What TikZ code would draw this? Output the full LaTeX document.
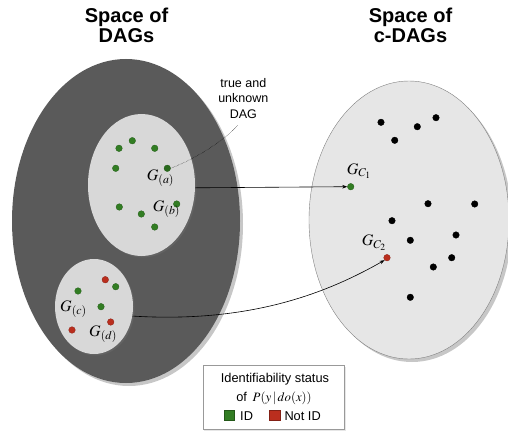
\documentclass[tikz,border=0pt]{standalone}
\usepackage{mathptmx}
\usepackage[no-math]{fontspec}
\setmainfont{Liberation Sans}
\usetikzlibrary{shapes.geometric,shadows,arrows.meta}
\definecolor{darkfill}{RGB}{90,90,90}
\definecolor{innerfill}{RGB}{216,216,216}
\definecolor{rightfill}{RGB}{230,230,230}
\definecolor{idgreen}{RGB}{50,125,35}
\definecolor{notred}{RGB}{186,46,30}
\tikzset{
  dotbase/.style={circle, inner sep=0pt, minimum size=6.6pt, line width=0.3pt},
  gdot/.style={dotbase, fill=idgreen, draw=idgreen!75!black},
  rdot/.style={dotbase, fill=notred, draw=notred!75!black},
  bdot/.style={dotbase, fill=black, draw=black},
  title/.style={font=\bfseries\fontsize{20}{20}\selectfont, anchor=base, inner sep=0pt},
  glabel/.style={font=\fontsize{16}{16}\selectfont, anchor=base west, inner sep=0pt},
  conn/.style={line width=0.6pt, -{Stealth[length=5pt,width=3.6pt]}},
  softshadow/.style={drop shadow={shadow xshift=3pt, shadow yshift=-3pt, opacity=0.22, fill=black}},
}
\begin{document}
\begin{tikzpicture}[x=1pt,y=-1pt]
\useasboundingbox (0,0) rectangle (508,433);
% titles
\node[title] (t1a) at (126.5,22.7) {Space of};
\node[title] (t1b) at (126.5,42.7) {DAGs};
\node[title] (t2a) at (410.5,22.7) {Space of};
\node[title] (t2b) at (410.5,42.7) {c-DAGs};
% big ellipses
\node[ellipse, fill=darkfill, minimum width=228pt, minimum height=324pt, inner sep=0pt, softshadow] (big) at (126,221) {};
\node[ellipse, fill=rightfill, draw=gray, line width=0.4pt, minimum width=200pt, minimum height=278pt, inner sep=0pt, softshadow] (right) at (409,220) {};
\node[ellipse, fill=innerfill, minimum width=107pt, minimum height=142pt, inner sep=0pt, drop shadow={shadow xshift=1.5pt, shadow yshift=-1.5pt, opacity=0.25}] (ellA) at (141.5,185) {};
\node[ellipse, fill=innerfill, minimum width=78pt, minimum height=95pt, inner sep=0pt, drop shadow={shadow xshift=1.5pt, shadow yshift=-1.5pt, opacity=0.25}] (ellC) at (94,306.5) {};
% dots in ellipse A
\node[gdot] (a1) at (119,148.3) {};
\node[gdot] (a2) at (132.3,140.7) {};
\node[gdot] (a3) at (154.7,148.3) {};
\node[gdot] (a4) at (115.7,168.3) {};
\node[gdot, fill=idgreen!85!black] (ga) at (167.3,168.3) {};
\node[gdot] (a6) at (119.3,207) {};
\node[gdot] (a7) at (141.3,214) {};
\node[gdot] (a8) at (154.7,227) {};
\node[gdot] (gb) at (176.7,204) {};
\node[glabel] (lga) at (146.7,180) {$G_{(a)}$};
\node[glabel] (lgb) at (152.7,211) {$G_{(b)}$};
% dots in ellipse C
\node[rdot] (c1) at (105.3,279.7) {};
\node[gdot] (c2) at (115.7,286.7) {};
\node[gdot] (c3) at (78,291) {};
\node[gdot] (c4) at (101,306.7) {};
\node[rdot] (c5) at (110.7,322) {};
\node[rdot] (c6) at (72,330) {};
\node[glabel] (lgc) at (60,311) {$G_{(c)}$};
\node[glabel] (lgd) at (89,336) {$G_{(d)}$};
% right dots
\node[bdot] (b1) at (381,122.3) {};
\node[bdot] (b2) at (394.7,140.3) {};
\node[bdot] (b3) at (417.3,126.7) {};
\node[bdot] (b4) at (436,117.7) {};
\node[bdot] (b5) at (428,203.7) {};
\node[bdot] (b6) at (474.7,204) {};
\node[bdot] (b7) at (392,220.7) {};
\node[bdot] (b8) at (410.3,240.3) {};
\node[bdot] (b9) at (456,235) {};
\node[bdot] (b10) at (451.7,257.7) {};
\node[bdot] (b11) at (433.3,267) {};
\node[bdot] (b12) at (410.3,297.3) {};
\node[gdot] (gc1) at (350.7,186.7) {};
\node[rdot] (gc2) at (387,257.7) {};
\node[glabel] (lgc1) at (346.7,174) {$G_{C_1}$};
\node[glabel] (lgc2) at (361.7,245.7) {$G_{C_2}$};
% annotation
\node[align=center, font=\fontsize{12.5}{15.3}\selectfont, inner sep=0pt] (annot) at (243.3,98.5) {true and\\unknown\\DAG};
\coordinate (annotend) at (238,125);
\draw[line width=0.4pt, densely dotted] (ga.east) .. controls (200,157) and (228,137) .. (annotend);
% connectors
\draw[conn] (ellA.-3) -- (gc1.west);
\draw[conn] (ellC.-14) .. controls (245,323) and (322,296) .. (gc2.south west);
% legend
\node[draw=gray!80, fill=white, line width=0.5pt, minimum width=141.5pt, minimum height=64pt, inner sep=0pt, drop shadow={shadow xshift=1.5pt, shadow yshift=-1.5pt, opacity=0.2}] (legend) at (273.5,397.5) {};
\node[font=\fontsize{12.8}{14}\selectfont, anchor=base, inner sep=0pt] (leg1) at (275,382.3) {Identifiability status};
\node[font=\fontsize{12.8}{14}\selectfont, anchor=base, inner sep=0pt] (leg2) at (274,401) {of\, $P(y\,|\,do(x))$};
\node[rectangle, fill=idgreen, draw=idgreen!70!black, line width=0.3pt, minimum width=10.3pt, minimum height=10.3pt, inner sep=0pt] (sqg) at (229.2,415) {};
\node[font=\fontsize{12.8}{14}\selectfont, anchor=base west, inner sep=0pt] (legid) at (240,420) {ID};
\node[rectangle, fill=notred, draw=notred!70!black, line width=0.3pt, minimum width=10.3pt, minimum height=10.3pt, inner sep=0pt] (sqr) at (274.7,415) {};
\node[font=\fontsize{12.8}{14}\selectfont, anchor=base west, inner sep=0pt] (legnot) at (284.3,420) {Not ID};
\end{tikzpicture}
\end{document}
